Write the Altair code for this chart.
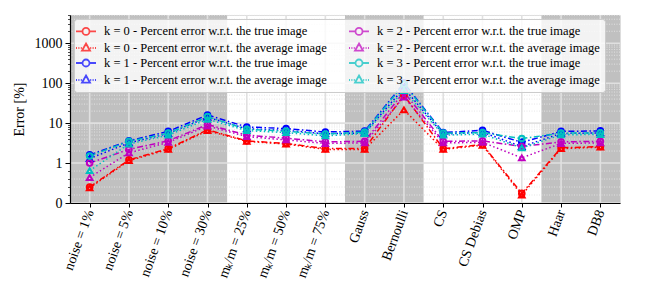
import json
import math
import altair as alt
import pandas as pd

categories = ["noise = 1%", "noise = 5%", "noise = 10%", "noise = 30%",
              "mₖ/m = 25%", "mₖ/m = 50%", "mₖ/m = 75%", "Gauss", "Bernoulli",
              "CS", "CS Debias", "OMP", "Haar", "DB8"]

k0_true = [0.40, 1.20, 2.3, 6.8, 3.6, 3.1, 2.3, 2.3, 50, 2.3, 2.9, 0.24, 2.4, 2.6]
k0_avg = [0.38, 1.15, 2.2, 6.5, 3.5, 3.0, 2.2, 2.2, 21.5, 2.2, 2.8, 0.20, 2.3, 2.5]
k1_true = [1.6, 3.6, 6.2, 16.0, 8.0, 7.3, 6.0, 6.3, 100, 5.8, 6.6, 3.3, 6.2, 6.4]
k1_avg = [1.3, 3.2, 5.5, 14.0, 7.2, 6.6, 5.4, 5.7, 75, 5.3, 5.9, 2.6, 5.5, 5.7]
k2_true = [1.0, 2.2, 3.6, 9.2, 5.0, 4.2, 3.4, 3.5, 60, 3.5, 3.6, 2.6, 3.4, 3.5]
k2_avg = [0.64, 1.8, 3.3, 8.5, 4.6, 3.8, 3.1, 3.2, 45, 3.2, 3.3, 1.35, 3.1, 3.2]
k3_true = [1.5, 3.5, 5.6, 14.5, 7.0, 6.3, 5.3, 6.0, 95, 5.6, 5.8, 4.1, 5.6, 5.7]
k3_avg = [0.81, 3.0, 5.0, 12.5, 6.5, 5.8, 4.8, 5.5, 65, 5.0, 5.3, 2.4, 5.1, 5.2]

series_names = [
    "k = 0 - Percent error w.r.t. the true image",
    "k = 0 - Percent error w.r.t. the average image",
    "k = 1 - Percent error w.r.t. the true image",
    "k = 1 - Percent error w.r.t. the average image",
    "k = 2 - Percent error w.r.t. the true image",
    "k = 2 - Percent error w.r.t. the average image",
    "k = 3 - Percent error w.r.t. the true image",
    "k = 3 - Percent error w.r.t. the average image",
]
series_values = [k0_true, k0_avg, k1_true, k1_avg, k2_true, k2_avg, k3_true, k3_avg]
series_kinds = ["true", "average"] * 4
series_colors = ["#ff0000", "#ff0000", "#0000ff", "#0000ff",
                 "#bf00bf", "#bf00bf", "#00bfbf", "#00bfbf"]

shaded_groups = [["noise = 1%", "noise = 5%", "noise = 10%", "noise = 30%"],
                 ["Gauss", "Bernoulli"],
                 ["Haar", "DB8"]]

major_ticks = [0, 1, 10, 100, 1000]
minor_ticks = [0.2, 0.4, 0.6, 0.8] + [m * d for d in (1, 10, 100, 1000) for m in range(2, 10) if m * d < 5100]
y_top = 5100

FONT = "Liberation Serif"
SYMLOG = "datum.v < 1 ? datum.v : 1 + log(datum.v) / LN10"


def sl(v):
    return v if v < 1 else 1 + math.log10(v)


# ---------- data tables ----------
rows = []
for name, vals, kind in zip(series_names, series_values, series_kinds):
    for i, v in enumerate(vals):
        rows.append({"idx": i, "series": name, "kind": kind, "v": v})
df = pd.DataFrame(rows)

bands = pd.DataFrame([{"x0": categories.index(g[0]) - 0.5,
                       "x1": categories.index(g[-1]) + 0.5} for g in shaded_groups])
minor_df = pd.DataFrame({"v": minor_ticks})
major_df = pd.DataFrame({"v": major_ticks})
xgrid_df = pd.DataFrame({"idx": list(range(len(categories)))})

# ---------- scales / axes ----------
x_scale = alt.Scale(domain=[-0.5, len(categories) - 0.5], nice=False, zero=False)
y_scale = alt.Scale(domain=[0, sl(y_top)], nice=False, zero=False)

x_axis = alt.Axis(
    values=list(range(len(categories))),
    labelExpr=json.dumps(categories, ensure_ascii=False) + "[datum.value]",
    labelAngle=-70, labelAlign="right", labelBaseline="middle",
    labelPadding=3, labelFont=FONT, labelFontSize=14, labelColor="black",
    labelOverlap=False, labelFlush=False, labelBound=False,
    tickSize=4, tickColor="black", tickWidth=1,
    grid=False, domain=True, domainColor="black", domainWidth=1.2, zindex=1,
)
y_vals = sorted(set([sl(v) for v in major_ticks] + [sl(v) for v in minor_ticks]))
y_axis = alt.Axis(
    values=y_vals,
    labelExpr="datum.value == floor(datum.value) ? (datum.value == 0 ? '0' : format(pow(10, datum.value - 1), 'd')) : ''",
    labelFont=FONT, labelFontSize=14, labelColor="black", labelPadding=3,
    labelOverlap=False, labelFlush=False,
    tickSize={"condition": {"test": "datum.value == floor(datum.value)", "value": 5}, "value": 2.5},
    tickWidth={"condition": {"test": "datum.value == floor(datum.value)", "value": 1}, "value": 0.7},
    tickColor="black",
    grid=False, domain=True, domainColor="black", domainWidth=1.2, zindex=1,
    titleFont=FONT, titleFontSize=14, titleFontWeight="normal", titleColor="black", titlePadding=8,
)


def X(field):
    return alt.X(field, type="quantitative", scale=x_scale, axis=x_axis, title=None)


def Y(field):
    return alt.Y(field, type="quantitative", scale=y_scale, axis=y_axis, title="Error [%]")


band_layer = alt.Chart(bands).mark_rect(color="#c0c0c0").encode(
    x=X("x0"), x2="x1")

minor_grid = alt.Chart(minor_df).transform_calculate(ys=SYMLOG).mark_rule(
    color="#e4e4e4", strokeWidth=0.9, strokeDash=[1, 1.5]).encode(y=Y("ys"))

major_grid = alt.Chart(major_df).transform_calculate(ys=SYMLOG).mark_rule(
    color="#e0e0e0", strokeWidth=1.6).encode(y=Y("ys"))

x_grid = alt.Chart(xgrid_df).mark_rule(color="#e0e0e0", strokeWidth=1.6).encode(x=X("idx"))

line_layer = alt.Chart(df).transform_calculate(ys=SYMLOG).mark_line(strokeWidth=1.5).encode(
    x=X("idx"), y=Y("ys"),
    color=alt.Color("series:N", scale=alt.Scale(domain=series_names, range=series_colors), legend=None),
    strokeDash=alt.StrokeDash("kind:N", scale=alt.Scale(domain=["true", "average"],
                                                         range=[[6, 2.5, 1.5, 2.5], [1.5, 2.5]]), legend=None),
)

point_layer = alt.Chart(df).transform_calculate(ys=SYMLOG).mark_point(
    filled=False, strokeWidth=2, size=32, opacity=1).encode(
    x=X("idx"), y=Y("ys"),
    color=alt.Color("series:N", scale=alt.Scale(domain=series_names, range=series_colors), legend=None),
    shape=alt.Shape("kind:N", scale=alt.Scale(domain=["true", "average"], range=["circle", "triangle-up"]), legend=None),
)

# legend symbols: a short line with the marker in its middle (units: sqrt(size)/2 px)
circ = ("M 0.583 0 A 0.583 0.583 0 1 1 -0.583 0 A 0.583 0.583 0 1 1 0.583 0 "
        "M -1.667 0 L -0.583 0 M 0.583 0 L 1.667 0")
tri = ("M 0 -0.75 L 0.67 0.45 L -0.67 0.45 Z "
       "M -1.667 0 L -1.5 0 M -1.27 0 L -1.1 0 M -0.87 0 L -0.7 0 "
       "M 0.7 0 L 0.87 0 M 1.1 0 L 1.27 0 M 1.5 0 L 1.667 0")
legend_paths = [circ if k == "true" else tri for k in series_kinds]

legend_props = dict(
    title=None, orient="none", legendX=4, legendY=4, columns=2,
    symbolSize=144, symbolStrokeWidth=1.8, symbolFillColor="transparent",
    labelFont=FONT, labelFontSize=12.5, labelColor="black", labelLimit=400, labelOffset=11,
    rowPadding=0, columnPadding=18, padding=5,
    fillColor="rgba(255,255,255,0.8)", strokeColor="#cccccc", cornerRadius=3,
)
legend_layer = alt.Chart(df).transform_calculate(ys=SYMLOG).transform_filter("false").mark_point(
    filled=False).encode(
    x=X("idx"), y=Y("ys"),
    color=alt.Color("series:N", scale=alt.Scale(domain=series_names, range=series_colors),
                    legend=alt.Legend(**legend_props)),
    shape=alt.Shape("series:N", scale=alt.Scale(domain=series_names, range=legend_paths),
                    legend=alt.Legend(**legend_props)),
)

chart = alt.layer(band_layer, minor_grid, major_grid, x_grid, line_layer, point_layer, legend_layer).resolve_scale(
    color="independent", shape="independent", strokeDash="independent"
).properties(
    width=550, height=188,
    autosize=alt.AutoSizeParams(type="none"),
    padding={"left": 62, "top": 7, "right": 36, "bottom": 96},
).configure_view(stroke="black", strokeWidth=1.2).configure(
    background="white"
).configure_legend(labelFont=FONT, labelFontSize=12.5, labelColor="black")

chart.save("out.html", embed_options={"renderer": "svg", "actions": False})
